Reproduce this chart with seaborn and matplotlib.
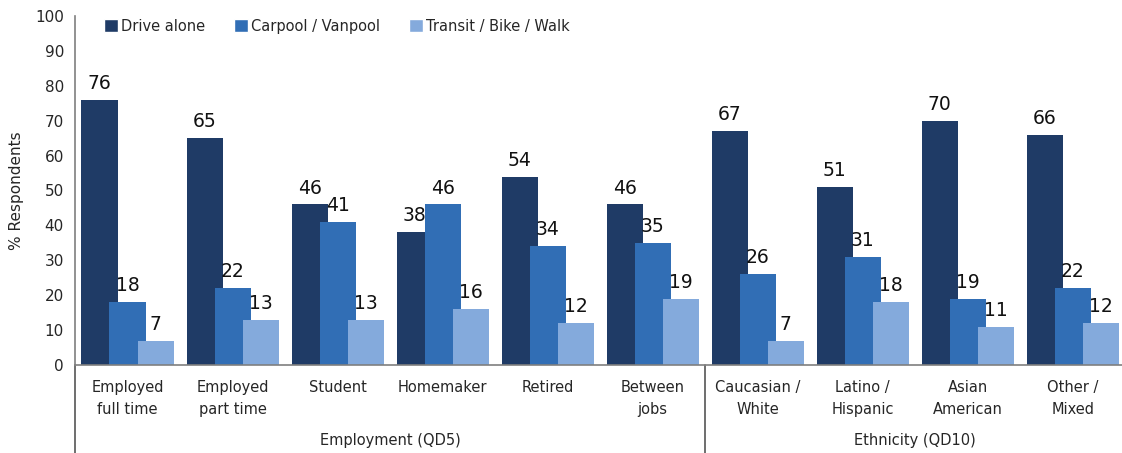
import matplotlib
matplotlib.use("Agg")
import numpy as np
import pandas as pd
import matplotlib.pyplot as plt
import matplotlib.transforms as mtransforms
import seaborn as sns

# data
categories = ["Employed\nfull time", "Employed\npart time", "Student", "Homemaker",
              "Retired", "Between\njobs", "Caucasian /\nWhite", "Latino /\nHispanic",
              "Asian\nAmerican", "Other /\nMixed"]
modes = ["Drive alone", "Carpool / Vanpool", "Transit / Bike / Walk"]
drive_alone = [76, 65, 46, 38, 54, 46, 67, 51, 70, 66]
carpool = [18, 22, 41, 46, 34, 35, 26, 31, 19, 22]
transit = [7, 13, 13, 16, 12, 19, 7, 18, 11, 12]
group_names = ["Employment (QD5)", "Ethnicity (QD10)"]
group_sizes = [6, 4]
colors = ["#1F3B66", "#316EB5", "#84AADC"]

df = pd.DataFrame({
    "category": categories * 3,
    "mode": np.repeat(modes, len(categories)),
    "value": drive_alone + carpool + transit,
})

sns.set_style("white")
plt.rcParams["font.family"] = ["DejaVu Sans"]

fig = plt.figure(figsize=(11.22, 4.53), dpi=100)
ax = fig.add_axes([75 / 1122, 88 / 453, 1047 / 1122, 349 / 453])

sns.barplot(data=df, x="category", y="value", hue="mode", order=categories,
            hue_order=modes, palette=colors, saturation=1, width=0.8, ax=ax)

# widen bars so neighbours overlap a little, as in the original
for cont in ax.containers:
    for bar in cont:
        c = bar.get_x() + bar.get_width() / 2
        w = 0.343
        bar.set_x(c - w / 2)
        bar.set_width(w)
        bar.set_edgecolor("none")
    ax.bar_label(cont, padding=5, fontsize=13.5, color="#111111")

ax.set_ylim(0, 100)
ax.set_xlim(-0.5, 9.47)
ax.set_yticks(range(0, 101, 10))
ax.tick_params(axis="y", length=0, labelsize=11, pad=8)
ax.tick_params(axis="x", length=0, labelsize=10.5, pad=11)
for lab in ax.get_xticklabels():
    lab.set_linespacing(1.55)
ax.set_xlabel("")
ax.set_ylabel("% Respondents", fontsize=11, labelpad=8)

sns.despine(ax=ax, top=True, right=True)
for side in ["left", "bottom"]:
    ax.spines[side].set_color("#7f7f7f")
    ax.spines[side].set_linewidth(1.2)

# group separators and group labels below the axis
trans = mtransforms.blended_transform_factory(ax.transData, ax.transAxes)
drop = -88 / 349
ax.plot([-0.5, -0.5], [0, drop], transform=trans, color="#555555", lw=1.2, clip_on=False)
start = 0
for name, n in zip(group_names, group_sizes):
    end = start + n
    if start > 0:
        ax.plot([start - 0.5, start - 0.5], [0, drop], transform=trans,
                color="#555555", lw=1.2, clip_on=False)
    ax.text((start + end - 1) / 2, -0.215, name, transform=trans,
            ha="center", va="center", fontsize=10.5)
    start = end

ax.legend(loc="upper left", bbox_to_anchor=(0.015, 1.03), ncol=3, frameon=False,
          handlelength=0.95, handleheight=0.95, handletextpad=0.2,
          columnspacing=2.0, fontsize=10.5, title=None)

fig.savefig("out.png", dpi=100)
